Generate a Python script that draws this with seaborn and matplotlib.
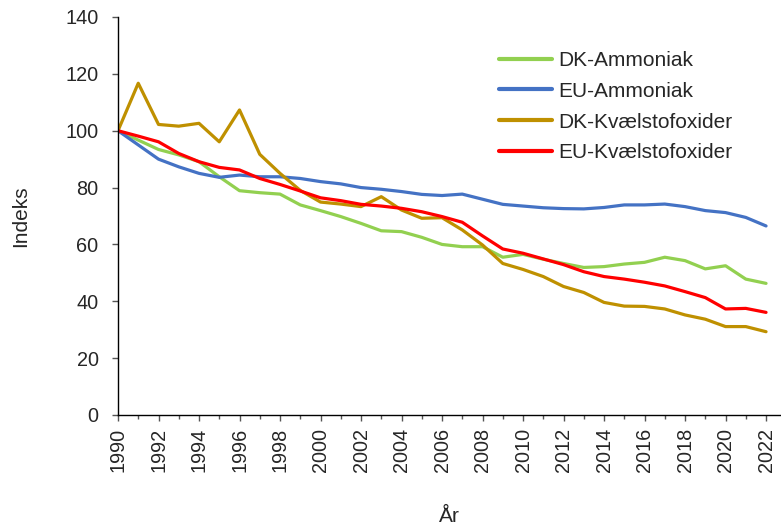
import matplotlib
matplotlib.use("Agg")
import matplotlib.pyplot as plt
import seaborn as sns
import pandas as pd
import numpy as np
from matplotlib.ticker import MultipleLocator

years = list(range(1990, 2023))
dk_ammoniak = [100, 96.7, 93.4, 91.5, 89.1, 83.8, 78.9, 78.2, 77.7, 73.9, 71.9, 69.8,
               67.4, 64.8, 64.5, 62.5, 60.0, 59.2, 59.2, 55.5, 56.5, 54.8, 53.3,
               51.9, 52.2, 53.1, 53.7, 55.5, 54.3, 51.4, 52.5, 47.8, 46.3]
eu_ammoniak = [100, 95.0, 90.0, 87.3, 85.0, 83.6, 84.4, 83.8, 83.8, 83.2, 82.1, 81.3,
               80.0, 79.4, 78.6, 77.6, 77.2, 77.7, 75.9, 74.1, 73.5, 72.9, 72.6,
               72.5, 73.0, 73.9, 73.9, 74.2, 73.3, 71.9, 71.2, 69.5, 66.5]
dk_nox = [100, 116.7, 102.2, 101.6, 102.6, 96.1, 107.3, 91.7, 85.0, 79.0, 74.9, 74.2,
          73.3, 76.8, 72.1, 69.2, 69.4, 65.1, 59.8, 53.3, 51.2, 48.7, 45.2,
          43.1, 39.6, 38.3, 38.2, 37.3, 35.2, 33.7, 31.1, 31.1, 29.3]
eu_nox = [100, 98.1, 96.1, 92.0, 89.1, 87.1, 86.2, 83.2, 81.1, 78.8, 76.4, 75.4,
          74.1, 73.5, 72.7, 71.5, 69.8, 67.8, 63.0, 58.4, 56.9, 54.9, 52.9,
          50.4, 48.7, 47.8, 46.7, 45.4, 43.4, 41.3, 37.3, 37.5, 36.1]

series_names = ["DK-Ammoniak", "EU-Ammoniak", "DK-Kvælstofoxider", "EU-Kvælstofoxider"]
colors = ["#92D050", "#4472C4", "#BF9000", "#FF0000"]

df = pd.DataFrame({
    "År": years * 4,
    "Indeks": dk_ammoniak + eu_ammoniak + dk_nox + eu_nox,
    "Serie": sum([[n] * len(years) for n in series_names], []),
})

sns.set_style("white")
plt.rcParams["font.family"] = ["Liberation Sans", "DejaVu Sans"]

fig = plt.figure(figsize=(7.81, 5.26), dpi=100)
ax = fig.add_axes([118 / 781, 1 - 415 / 526, 1 - 118 / 781 - 0.001, (415 - 17) / 526])

sns.lineplot(data=df, x="År", y="Indeks", hue="Serie", hue_order=series_names,
             palette=colors, linewidth=2.3, ax=ax, legend=True)

ax.set_xlim(1990, 2022.7)
ax.set_ylim(0, 140)
ax.xaxis.set_major_locator(MultipleLocator(2))
ax.xaxis.set_minor_locator(MultipleLocator(1))
ax.yaxis.set_major_locator(MultipleLocator(20))
ax.tick_params(axis="x", which="major", direction="out", length=4.5, width=1, color="#555555",
               labelsize=14.3, labelrotation=90, bottom=True, pad=5)
ax.tick_params(axis="x", which="minor", direction="out", length=3, width=1, color="#555555", bottom=True)
ax.tick_params(axis="y", which="major", direction="out", length=4.5, width=1, color="#555555",
               labelsize=14.3, left=True, pad=9.5)
for s in ["top", "right"]:
    ax.spines[s].set_visible(False)
for s in ["left", "bottom"]:
    ax.spines[s].set_color("black")
    ax.spines[s].set_linewidth(1)

ax.set_ylabel("Indeks", fontsize=15, labelpad=25)
ax.set_xlabel("År", fontsize=15, labelpad=25)

leg = ax.legend(loc="upper left", bbox_to_anchor=(0.576, 0.915), frameon=False, fontsize=15,
                handlelength=2.5, handletextpad=0.3, labelspacing=0.57, borderaxespad=0,
                borderpad=0)
for h in leg.get_lines():
    h.set_linewidth(3)

fig.savefig("out.png", dpi=100)
